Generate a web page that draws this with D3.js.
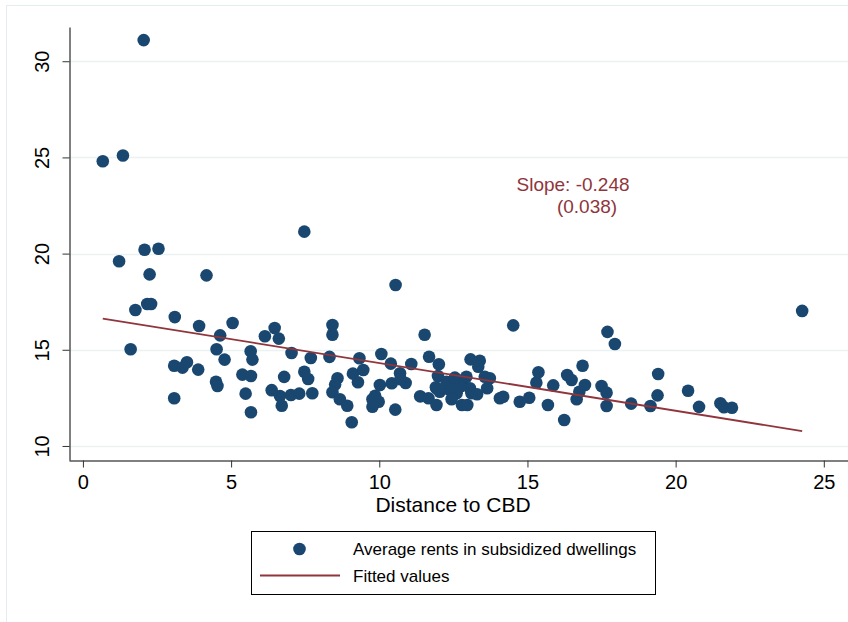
<!DOCTYPE html>
<html>
<head>
<meta charset="utf-8">
<script src="https://cdn.jsdelivr.net/npm/d3@7"></script>
<style>
  body { margin: 0; background: #fff; }
  svg { display: block; font-family: "Liberation Sans", Arial, sans-serif; }
</style>
</head>
<body>
<div id="chart"></div>
<script>
// distance to CBD (km) and average rent
const distance = [
  0.67, 1.35, 2.05, 2.08, 2.55, 1.22, 2.25, 4.17, 1.77, 2.17, 2.30, 3.10, 3.92, 5.05, 4.63, 1.61,
  3.08, 3.36, 3.51, 3.89, 4.51, 4.78, 5.66, 5.72, 4.49, 4.54, 5.38, 5.67, 5.49, 3.08, 5.67,
  7.47, 10.55, 6.47, 6.14, 6.61, 8.42, 8.42, 11.53, 7.04, 7.69, 8.32, 9.33, 10.07, 10.39, 11.08,
  11.68, 6.79, 7.47, 7.60, 8.59, 8.51, 8.42, 9.11, 9.46, 9.28, 10.02, 10.42, 10.70, 10.89, 10.72,
  6.37, 6.65, 6.71, 7.02, 7.30, 7.74, 8.67, 8.92, 9.07, 9.77, 9.86, 9.98, 9.77, 10.54, 11.38,
  11.66, 11.93, 11.93, 12.01, 13.08, 11.98, 12.27, 12.55, 12.83, 12.94, 12.38, 12.61, 12.44, 12.79,
  12.97, 11.91, 12.72, 12.04, 12.55, 14.52, 13.39, 13.34, 13.56, 13.73, 13.64, 13.06, 13.11, 13.30,
  14.07, 14.18, 14.74, 15.06, 15.37, 15.30, 15.87, 15.69, 16.24, 16.34, 16.49, 16.86, 16.94, 16.75,
  16.66, 17.70, 17.95, 17.50, 17.67, 17.67, 24.27, 19.41, 18.50, 19.15, 19.39, 20.42, 20.79, 21.51,
  21.63, 21.90
];
const rent = [
  24.8, 25.1, 31.1, 20.2, 20.25, 19.6, 18.92, 18.87, 17.07, 17.38, 17.38, 16.7, 16.24, 16.39, 15.75, 15.03,
  14.17, 14.07, 14.35, 13.97, 15.03, 14.49, 14.92, 14.49, 13.34, 13.12, 13.71, 13.64, 12.72, 12.48, 11.75,
  21.14, 18.37, 16.13, 15.7, 15.58, 16.29, 15.78, 15.78, 14.83, 14.57, 14.63, 14.56, 14.78, 14.28, 14.26,
  14.64, 13.59, 13.86, 13.48, 13.52, 13.19, 12.79, 13.76, 13.95, 13.31, 13.17, 13.26, 13.78, 13.27, 13.47,
  12.9, 12.6, 12.09, 12.65, 12.72, 12.74, 12.43, 12.09, 11.23, 12.43, 12.61, 12.3, 12.04, 11.89, 12.58,
  12.48, 13.0, 12.13, 14.25, 14.5, 13.64, 13.34, 13.43, 13.43, 13.6, 12.91, 12.74, 12.43, 12.13,
  12.13, 13.05, 13.08, 12.82, 13.55, 16.27, 14.43, 14.12, 13.6, 13.52, 13.0, 13.0, 12.74, 12.69,
  12.48, 12.56, 12.3, 12.51, 13.83, 13.29, 13.15, 12.13, 11.35, 13.69, 13.43, 14.17, 13.17, 12.82,
  12.43, 15.93, 15.3, 13.12, 12.77, 12.08, 17.02, 13.74, 12.2, 12.08, 12.63, 12.87, 12.03, 12.22,
  12.01, 11.99
];
const xTicks = [0, 5, 10, 15, 20, 25];
const yTicks = [10, 15, 20, 25, 30];
const fitIntercept = 16.79;
const fitSlope = -0.248;
const annotation = ['Slope: -0.248', '(0.038)'];
const legendLabels = ['Average rents in subsidized dwellings', 'Fitted values'];

const W = 848, H = 622;
const navy = '#1a476f', maroon = '#90353b';

const svg = d3.select('#chart').append('svg')
  .attr('width', W)
  .attr('height', H);

// light outer frame of the graph region
svg.append('rect')
  .attr('x', 6.5).attr('y', 5.5)
  .attr('width', W).attr('height', H)
  .attr('fill', 'none')
  .attr('stroke', '#e3edef');

const x = d3.scaleLinear().domain([-0.47, 25.85]).range([69, 849]);
const y = d3.scaleLinear().domain([9.27, 31.78]).range([460, 27]);

// gridlines
svg.append('g')
  .selectAll('line')
  .data(yTicks)
  .join('line')
  .attr('x1', x.range()[0]).attr('x2', x.range()[1])
  .attr('y1', d => Math.round(y(d)) + 0.5).attr('y2', d => Math.round(y(d)) + 0.5)
  .attr('stroke', '#eaf2f3')
  .attr('stroke-width', 1.5);

// y axis
const yAxis = svg.append('g')
  .attr('transform', 'translate(69.5,0)')
  .call(d3.axisLeft(y).tickValues(yTicks).tickSize(7).tickSizeOuter(0));
yAxis.select('.domain').attr('stroke', '#000');
yAxis.selectAll('.tick line').attr('stroke', '#333');
yAxis.selectAll('.tick text')
  .attr('x', 0).attr('y', 0).attr('dy', 0)
  .attr('text-anchor', 'middle')
  .attr('transform', 'translate(-21,0) rotate(-90)')
  .style('font-size', '20px')
  .style('font-family', '"Liberation Sans", Arial, sans-serif')
  .attr('fill', '#000');

// x axis
const xAxis = svg.append('g')
  .attr('transform', 'translate(0,460.5)')
  .call(d3.axisBottom(x).tickValues(xTicks).tickSize(7).tickSizeOuter(0));
xAxis.select('.domain').attr('stroke', '#000');
xAxis.selectAll('.tick line').attr('stroke', '#333');
xAxis.selectAll('.tick text')
  .attr('y', 28).attr('dy', 0)
  .style('font-size', '20px')
  .style('font-family', '"Liberation Sans", Arial, sans-serif')
  .attr('fill', '#000');

svg.append('text')
  .attr('x', 453).attr('y', 512)
  .attr('text-anchor', 'middle')
  .style('font-size', '21px')
  .text('Distance to CBD');

// scatter points
const points = distance.map((d, i) => ({ dist: d, rent: rent[i] }));
svg.append('g')
  .selectAll('circle')
  .data(points)
  .join('circle')
  .attr('cx', d => x(d.dist))
  .attr('cy', d => y(d.rent))
  .attr('r', 6.3)
  .attr('fill', navy);

// fitted line over the range of the data
const [minD, maxD] = d3.extent(distance);
svg.append('path')
  .datum([minD, maxD])
  .attr('fill', 'none')
  .attr('stroke', maroon)
  .attr('stroke-width', 1.8)
  .attr('d', d3.line()
    .x(d => x(d))
    .y(d => y(fitIntercept + fitSlope * d)));

// slope annotation
svg.append('g')
  .selectAll('text')
  .data(annotation)
  .join('text')
  .attr('x', (d, i) => i === 0 ? 573 : 587)
  .attr('y', (d, i) => 191 + i * 22)
  .attr('text-anchor', 'middle')
  .attr('fill', maroon)
  .style('font-size', '19px')
  .text(d => d);

// legend
const legend = svg.append('g');
legend.append('rect')
  .attr('x', 251.5).attr('y', 531.5)
  .attr('width', 404).attr('height', 63)
  .attr('fill', '#fff')
  .attr('stroke', '#000');
legend.append('circle')
  .attr('cx', 299.5).attr('cy', 549)
  .attr('r', 6.3)
  .attr('fill', navy);
legend.append('line')
  .attr('x1', 260).attr('x2', 340)
  .attr('y1', 575.5).attr('y2', 575.5)
  .attr('stroke', maroon)
  .attr('stroke-width', 1.8);
legend.selectAll('text')
  .data(legendLabels)
  .join('text')
  .attr('x', 353)
  .attr('y', (d, i) => 555 + i * 27)
  .style('font-size', '17px')
  .text(d => d);
</script>
</body>
</html>
